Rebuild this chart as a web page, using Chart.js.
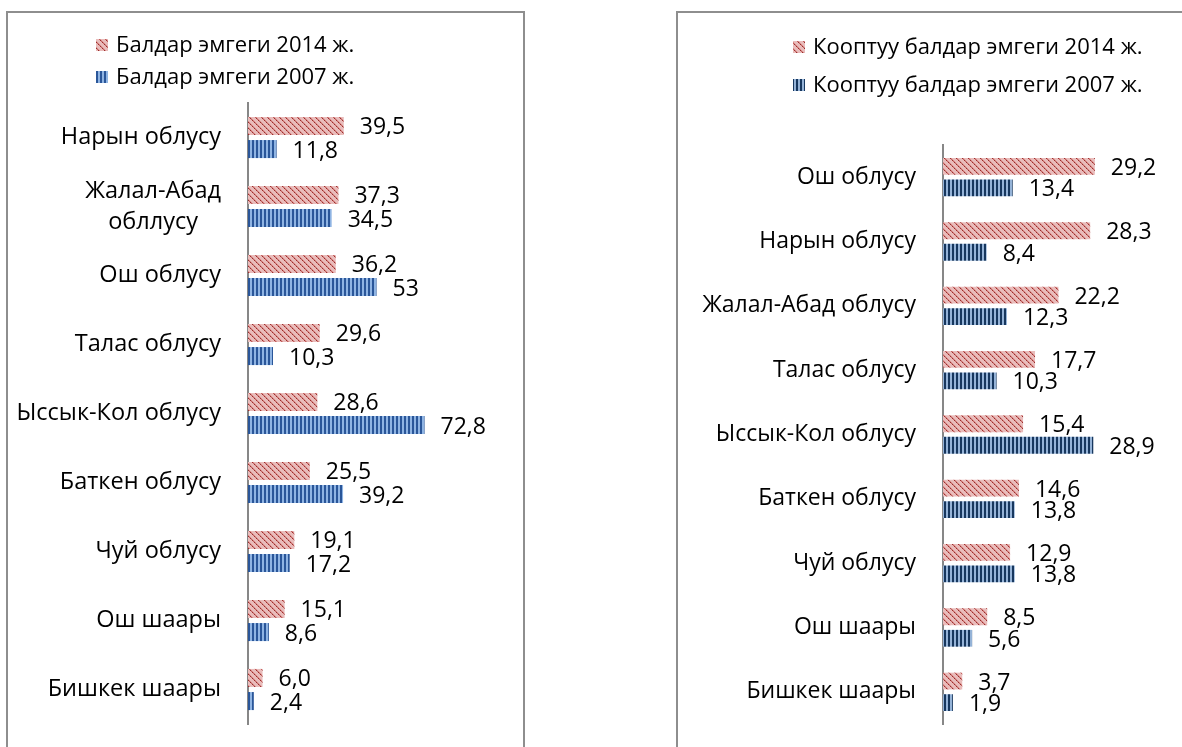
<!DOCTYPE html>
<html>
<head>
<meta charset="utf-8">
<script src="https://cdn.jsdelivr.net/npm/chart.js@4"></script>
<style>
  html, body { margin: 0; padding: 0; background: #fff; overflow: hidden; }
  body { width: 1182px; height: 747px; position: relative; }
  .panel { position: absolute; border: 2px solid #8e8e8e; box-sizing: border-box; }
  #panelLeft { left: 6px; top: 11px; width: 519px; height: 800px; }
  #panelRight { left: 676px; top: 11px; width: 600px; height: 800px; }
  canvas { position: absolute; top: 0; }
  #chartLeft { left: 0; }
  #chartRight { left: 600px; }
</style>
</head>
<body>
<div class="panel" id="panelLeft"></div>
<div class="panel" id="panelRight"></div>
<canvas id="chartLeft" width="600" height="747"></canvas>
<canvas id="chartRight" width="582" height="747"></canvas>
<script>
// Балдар эмгеги (сол жак)
const leftCategories = ['Нарын облусу', ['Жалал-Абад', 'обллусу'], 'Ош облусу', 'Талас облусу',
    'Ыссык-Кол облусу', 'Баткен облусу', 'Чуй облусу', 'Ош шаары', 'Бишкек шаары'];
const left2014 = ['39,5', '37,3', '36,2', '29,6', '28,6', '25,5', '19,1', '15,1', '6,0'];
const left2007 = ['11,8', '34,5', '53', '10,3', '72,8', '39,2', '17,2', '8,6', '2,4'];

// Кооптуу балдар эмгеги (оң жак)
const rightCategories = ['Ош облусу', 'Нарын облусу', 'Жалал-Абад облусу', 'Талас облусу',
    'Ыссык-Кол облусу', 'Баткен облусу', 'Чуй облусу', 'Ош шаары', 'Бишкек шаары'];
const right2014 = ['29,2', '28,3', '22,2', '17,7', '15,4', '14,6', '12,9', '8,5', '3,7'];
const right2007 = ['13,4', '8,4', '12,3', '10,3', '28,9', '13,8', '13,8', '5,6', '1,9'];

const FAMILY = '"Open Sans", "Noto Sans", sans-serif';
const toNum = s => parseFloat(s.replace(',', '.'));

// штрихтуу түстөр
function diagPattern() {
    const c = document.createElement('canvas');
    c.width = 6; c.height = 6;
    const g = c.getContext('2d');
    g.fillStyle = '#e9bcbb';
    g.fillRect(0, 0, 6, 6);
    for (let i = 0; i < 6; i++) {
        g.fillStyle = i % 2 ? '#c4605e' : '#9b2f2d';
        g.fillRect(i, i, 1, 1);
        g.fillStyle = '#d68c8a';
        g.fillRect((i + 1) % 6, i, 1, 1);
    }
    return g.createPattern(c, 'repeat');
}

function stripePattern(dark, light) {
    const c = document.createElement('canvas');
    c.width = 4; c.height = 4;
    const g = c.getContext('2d');
    g.fillStyle = light;
    g.fillRect(0, 0, 4, 4);
    g.fillStyle = dark;
    g.fillRect(0, 0, 2, 4);
    return g.createPattern(c, 'repeat');
}

// легенда, категориялар жана маанилер үчүн плагин
const extras = {
    id: 'extras',
    afterDatasetsDraw(chart, args, opts) {
        const ctx = chart.ctx;
        const yScale = chart.scales.y;
        ctx.save();
        ctx.fillStyle = '#000';
        ctx.textBaseline = 'middle';

        // категориялар
        ctx.font = opts.catSize + 'px ' + FAMILY;
        chart.data.labels.forEach((lab, i) => {
            const lines = Array.isArray(lab) ? lab : [lab];
            const y0 = yScale.getPixelForValue(i);
            const right = chart.chartArea.left - 27;
            const w = Math.max(...lines.map(l => ctx.measureText(l).width));
            ctx.textAlign = 'center';
            lines.forEach((l, k) => {
                const y = y0 + (k - (lines.length - 1) / 2) * opts.lineHeight;
                ctx.fillText(l, right - w / 2, y);
            });
        });

        // маанилер
        ctx.font = opts.valueSize + 'px ' + FAMILY;
        ctx.textAlign = 'left';
        chart.data.datasets.forEach((ds, di) => {
            const meta = chart.getDatasetMeta(di);
            meta.data.forEach((bar, i) => {
                ctx.fillText(ds.valueText[i], bar.x + 16, bar.y + 2);
            });
        });

        // легенда
        ctx.font = opts.legendSize + 'px ' + FAMILY;
        chart.data.datasets.forEach((ds, di) => {
            const y = opts.legendRows[di];
            ctx.fillStyle = ds.backgroundColor;
            ctx.fillRect(opts.legendX, y - 6, 12, 12);
            ctx.fillStyle = '#000';
            ctx.fillText(ds.label, opts.legendX + 20, y + 1);
        });
        ctx.restore();
    }
};

function makeChart(id, labels, s2014, s2007, names, blue, xMax, padding, extraOpts) {
    return new Chart(document.getElementById(id), {
        type: 'bar',
        data: {
            labels: labels,
            datasets: [{
                label: names[0],
                data: s2014.map(toNum),
                valueText: s2014,
                backgroundColor: diagPattern(),
                borderWidth: 0,
                categoryPercentage: 0.67,
                barPercentage: 0.78
            }, {
                label: names[1],
                data: s2007.map(toNum),
                valueText: s2007,
                backgroundColor: blue,
                borderWidth: 0,
                categoryPercentage: 0.67,
                barPercentage: 0.78
            }]
        },
        options: {
            indexAxis: 'y',
            responsive: false,
            animation: false,
            layout: { padding: padding },
            plugins: {
                legend: { display: false },
                tooltip: { enabled: false },
                extras: extraOpts
            },
            scales: {
                x: { display: false, min: 0, max: xMax },
                y: {
                    ticks: { display: false },
                    grid: { display: false, drawTicks: false },
                    border: { display: true, color: '#878787', width: 2 }
                }
            }
        },
        plugins: [extras]
    });
}

makeChart('chartLeft', leftCategories, left2014, left2007,
    ['Балдар эмгеги 2014 ж.', 'Балдар эмгеги 2007 ж.'],
    stripePattern('#2a5699', '#8fb4e3'), 80,
    { left: 248, right: 158, top: 103, bottom: 23 },
    { legendX: 96, legendRows: [45, 77], lineHeight: 31, catSize: 23.5, valueSize: 23, legendSize: 22 });

makeChart('chartRight', rightCategories, right2014, right2007,
    ['Кооптуу балдар эмгеги 2014 ж.', 'Кооптуу балдар эмгеги 2007 ж.'],
    stripePattern('#17375e', '#95b3d7'), 35,
    { left: 343, right: 57, top: 145, bottom: 23 },
    { legendX: 193, legendRows: [47, 85], lineHeight: 31, catSize: 23, valueSize: 23, legendSize: 22 });
</script>
</body>
</html>
